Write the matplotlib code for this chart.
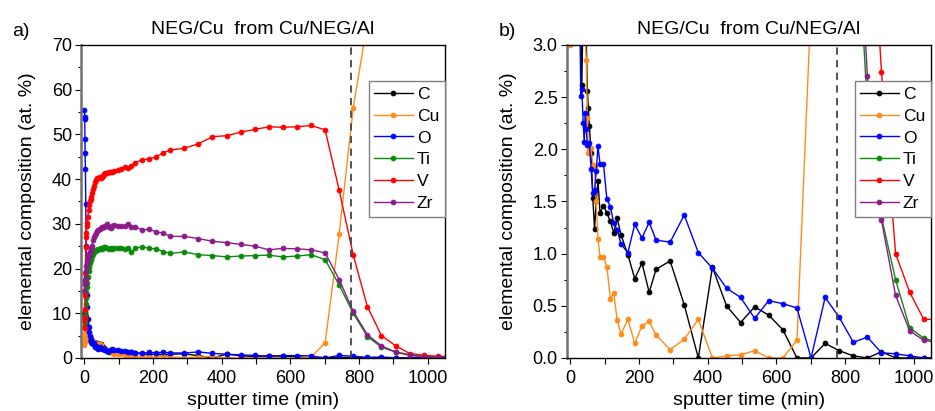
import numpy as np
import matplotlib
matplotlib.use("Agg")
import matplotlib.pyplot as plt
from matplotlib.ticker import MultipleLocator

plt.rcParams['font.family'] = ['Liberation Sans', 'DejaVu Sans']

# sputter time (min)
time = [0, 0.5, 1, 1.5, 2, 3, 4, 5, 6, 7, 8, 10, 12, 14, 16, 18, 20, 22, 25, 28,
        31, 34, 38, 41, 44, 47, 50, 53, 56, 61, 66, 71, 76, 81, 87, 97, 107, 117,
        127, 137, 148, 168, 188, 209, 230, 250, 291, 332, 373, 414, 455, 496, 537,
        578, 619, 660, 701, 742, 783, 824, 865, 906, 947, 988, 1029, 1070]

C = [10.0, 9.8, 9.6, 9.5, 9.3, 9.0, 8.5, 8.0, 7.5, 7.0, 6.5, 5.8, 5.0, 4.5, 4.1, 3.8,
     3.6, 3.4, 3.3, 3.5, 3.3, 2.62, 3.4, 3.2, 3.1, 3.05, 2.56, 2.4, 2.22, 1.96, 1.53,
     1.24, 1.50, 1.70, 1.39, 1.46, 1.39, 1.31, 1.20, 1.34, 1.18, 0.99, 0.76, 0.91,
     0.63, 0.85, 0.93, 0.51, 0.0, 0.87, 0.50, 0.34, 0.49, 0.41, 0.27, 0.0, 0.0,
     0.14, 0.07, 0.02, 0.0, 0.06, 0.0, 0.0, 0.0, 0.0]

Cu = [3.0, 4.5, 3.5, 4.0, 5.0, 5.5, 6.0, 6.6, 6.8, 6.5, 6.2, 5.8, 5.3, 5.0, 4.7, 4.4,
      4.0, 3.8, 3.6, 3.4, 3.3, 3.2, 3.1, 3.05, 3.05, 2.86, 2.3, 1.96, 2.0, 2.01, 1.85,
      1.84, 1.50, 1.14, 0.97, 0.97, 0.87, 0.57, 0.62, 0.36, 0.23, 0.37, 0.14, 0.31,
      0.35, 0.22, 0.08, 0.18, 0.37, 0.0, 0.02, 0.03, 0.07, 0.0, 0.0, 0.17, 3.4,
      27.8, 56.0, 75.0, 88.0, 94.0, 97.0, 98.5, 99.0, 99.2]

O = [55.5, 54.0, 53.5, 49.0, 45.8, 42.2, 34.4, 25.0, 18.0, 14.0, 11.5, 8.8, 7.0, 5.8,
     4.9, 4.2, 3.7, 3.4, 3.15, 3.3, 2.51, 2.58, 2.25, 2.07, 2.35, 2.19, 2.04, 2.05,
     2.06, 1.81, 1.58, 1.61, 1.79, 2.03, 1.86, 1.86, 1.52, 1.45, 1.29, 1.23, 1.09,
     1.01, 1.28, 1.15, 1.30, 1.13, 1.11, 1.37, 1.01, 0.86, 0.67, 0.58, 0.38, 0.55,
     0.52, 0.48, 0.0, 0.58, 0.39, 0.15, 0.20, 0.05, 0.04, 0.02, 0.0, 0.0]

Ti = [7.0, 8.0, 8.5, 9.0, 9.5, 10.5, 12.0, 13.5, 14.8, 15.8, 16.8, 18.2, 19.4, 20.4,
      21.2, 21.8, 22.3, 22.7, 23.2, 23.6, 23.9, 24.1, 24.2, 24.3, 24.4, 24.5, 24.4,
      24.6, 24.8, 24.9, 24.6, 24.4, 24.5, 24.3, 24.5, 24.5, 24.5, 24.4, 24.5, 23.6,
      24.5, 24.9, 24.5, 24.4, 23.8, 23.4, 23.7, 23.1, 22.9, 22.6, 22.8, 22.9, 23.0,
      22.6, 22.8, 23.1, 22.0, 16.3, 10.0, 4.8, 2.4, 1.35, 0.75, 0.29, 0.19, 0.15]

V = [8.4, 6.6, 9.0, 11.0, 14.0, 19.0, 24.8, 27.0, 28.0, 29.5, 30.1, 31.5, 33.0, 34.2,
     35.0, 35.6, 36.0, 37.0, 37.9, 38.5, 39.4, 39.8, 40.2, 40.3, 40.4, 40.3, 40.4,
     40.6, 41.2, 41.4, 41.4, 41.6, 41.5, 41.7, 41.9, 42.0, 42.3, 42.6, 42.5, 43.0,
     43.7, 44.3, 44.5, 45.0, 45.9, 46.5, 46.9, 47.9, 49.5, 49.7, 50.5, 51.1, 51.7,
     51.6, 51.7, 52.0, 51.0, 37.5, 23.0, 11.5, 5.0, 2.74, 1.00, 0.63, 0.37, 0.37]

Zr = [15.0, 17.0, 16.5, 17.5, 16.5, 17.3, 17.6, 19.5, 20.5, 21.3, 21.8, 22.3, 22.8,
      23.2, 23.6, 24.0, 24.5, 25.0, 26.3, 27.0, 27.6, 28.0, 28.4, 28.7, 28.9, 29.0,
      29.2, 29.3, 29.3, 29.6, 29.9, 29.4, 29.1, 29.6, 29.7, 29.5, 29.5, 29.5, 29.9,
      29.3, 29.3, 28.6, 28.8, 28.2, 27.9, 27.2, 27.2, 26.7, 26.1, 25.8, 25.4, 25.0,
      24.2, 24.5, 24.4, 24.2, 23.5, 17.5, 10.4, 5.2, 2.70, 1.32, 0.60, 0.26, 0.17,
      0.15]

labels = ['C', 'Cu', 'O', 'Ti', 'V', 'Zr']
series = [C, Cu, O, Ti, V, Zr]
colors = ['#000000', '#ff8c1a', '#0000ff', '#0a8a0a', '#ff0000', '#8b1a8b']
interface_time = 777
title = 'NEG/Cu  from Cu/NEG/Al'

fig = plt.figure(figsize=(9.35, 4.11), dpi=100)
ax1 = fig.add_axes([0.0866, 0.129, 0.3893, 0.7616])
ax2 = fig.add_axes([0.6061, 0.129, 0.3896, 0.7616])


def style(ax, ylim, major, minor, fmt):
    for lab, ser, col in zip(labels, series, colors):
        ax.plot(time, ser, '-', color=col, lw=1.0, marker='o', ms=3.5,
                mfc=col, mec=col, mew=0.6, label=lab)
    ax.axvline(interface_time, color='#444444', ls=(0, (4, 3)), lw=1.3)
    ax.set_xlim(-10, 1050)
    ax.set_ylim(*ylim)
    ax.xaxis.set_major_locator(MultipleLocator(200))
    ax.xaxis.set_minor_locator(MultipleLocator(100))
    ax.yaxis.set_major_locator(MultipleLocator(major))
    ax.yaxis.set_minor_locator(MultipleLocator(minor))
    ax.yaxis.set_major_formatter(fmt)
    ax.tick_params(which='both', direction='out', labelsize=13, top=False,
                   right=False, width=0.8)
    ax.tick_params(axis='x', which='both', length=4, pad=5)
    ax.tick_params(axis='y', which='major', length=4, pad=2.5)
    ax.tick_params(axis='y', which='minor', length=2.5)
    ax.spines['left'].set_color('#707070')
    ax.spines['left'].set_linewidth(1.8)
    for s in ['top', 'right', 'bottom']:
        ax.spines[s].set_linewidth(1.0)
    ax.set_xlabel('sputter time (min)', fontsize=14, labelpad=3)
    ax.set_ylabel('elemental composition (at. %)', fontsize=14, labelpad=11)
    ax.set_title(title, fontsize=14, pad=8)
    leg = ax.legend(loc='upper right', bbox_to_anchor=(0.999, 0.884),
                    borderaxespad=0, fontsize=12.6, handlelength=2.2,
                    handletextpad=0.25, labelspacing=0.38, borderpad=0.3,
                    fancybox=False, framealpha=1, edgecolor='#808080')
    leg.get_frame().set_linewidth(1.0)


style(ax1, (0, 70), 10, 5, '{x:.0f}')
style(ax2, (0, 3.0), 0.5, 0.25, '{x:.1f}')

fig.text(0.013, 0.913, 'a)', fontsize=14)
fig.text(0.533, 0.913, 'b)', fontsize=14)

fig.savefig('out.png', dpi=100)
